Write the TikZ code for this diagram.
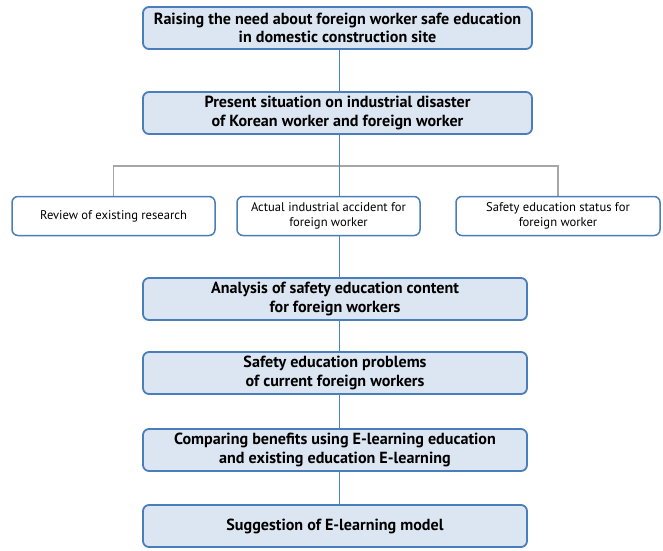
\documentclass[tikz,border=0pt]{standalone}
\usepackage{fontspec}
\setmainfont{PT Sans}
\usetikzlibrary{backgrounds}
\definecolor{boxfill}{HTML}{DCE6F2}
\definecolor{boxline}{HTML}{4A7EBB}
\definecolor{spineblue}{HTML}{4F81BD}
\definecolor{bargray}{HTML}{A6A6A6}
\begin{document}
\begin{tikzpicture}[x=1pt,y=-1pt,
  bigbox/.style={draw=boxline,line width=1.8pt,fill=boxfill,rounded corners=6pt,
    minimum height=42pt,inner sep=0pt,align=center,font=\bfseries\fontsize{16.1}{18.5}\selectfont},
  smallbox/.style={draw=boxline,line width=1.5pt,fill=white,rounded corners=6pt,
    minimum height=39pt,inner sep=0pt,align=center,font=\fontsize{12.6}{15}\selectfont},
  spine/.style={draw=spineblue,line width=1pt},
  bar/.style={draw=bargray,line width=1.2pt}]
\useasboundingbox (0,0) rectangle (663,550);
\node[bigbox,minimum width=389pt] (b1) at (337.5,28) {Raising the need about foreign worker safe education\\in domestic construction site};
\node[bigbox,minimum width=389pt] (b2) at (337.5,113) {Present situation on industrial disaster\\of Korean worker and foreign worker};
\node[smallbox,minimum width=203pt] (l) at (113.5,216) {Review of existing research};
\node[smallbox,minimum width=183pt] (m) at (328.5,216) {Actual industrial accident for\\foreign worker};
\node[smallbox,minimum width=204pt] (r) at (558,216) {Safety education status for\\foreign worker};
\node[bigbox,minimum width=384pt] (a) at (335,299) {Analysis of safety education content\\for foreign workers};
\node[bigbox,minimum width=384pt] (p) at (335,373) {Safety education problems\\of current foreign workers};
\node[bigbox,minimum width=384pt] (c) at (335,450) {Comparing benefits using E-learning education\\and existing education E-learning};
\node[bigbox,minimum width=384pt] (s) at (335,526) {Suggestion of E-learning model};
\coordinate (sp) at (339.5,0);
\coordinate (hub) at (339.5,166);
\begin{scope}[on background layer]
\draw[bar] (l.north) |- (hub) -| (r.north);
\draw[spine] (b1.south -| sp) -- (b2.north -| sp);
\draw[spine] (b2.south -| sp) -- (a.north -| sp);
\draw[spine] (a.south -| sp) -- (p.north -| sp);
\draw[spine] (p.south -| sp) -- (c.north -| sp);
\draw[spine] (c.south -| sp) -- (s.north -| sp);
\end{scope}
\end{tikzpicture}
\end{document}
